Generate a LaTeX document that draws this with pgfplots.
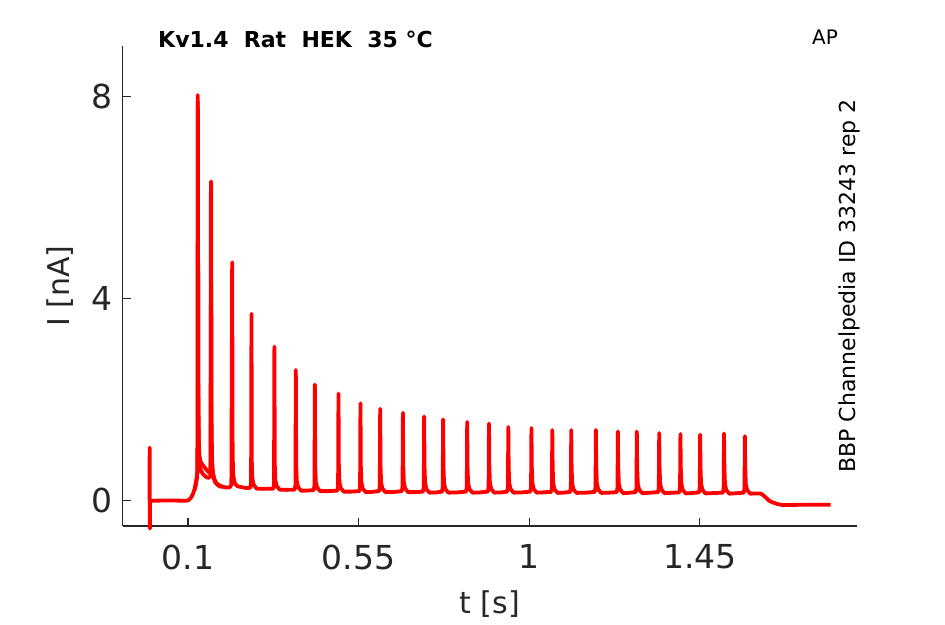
\documentclass[border=0pt]{standalone}
\usepackage{fontspec}
\setmainfont{DejaVu Sans}
\usepackage{pgfplots}
\pgfplotsset{compat=1.18}
\definecolor{axgray}{HTML}{262626}
\definecolor{tracered}{HTML}{FF0000}
\begin{document}
\begin{tikzpicture}[x=1pt,y=1pt]
\path[use as bounding box] (0,0) rectangle (945,624);
\begin{axis}[
  at={(122.5pt,98pt)}, anchor=south west,
  scale only axis, width=734.2pt, height=480pt,
  xmin=-0.0727, xmax=1.864, ymin=-0.5, ymax=9,
  axis x line*=bottom, axis y line*=left,
  axis line style={axgray, line width=1.2pt},
  tick align=inside, major tick length=8pt,
  tick style={axgray, line width=1.2pt},
  xtick={0.1,0.55,1,1.45}, ytick={0,4,8},
  /pgf/number format/assume math mode=true,
  tick label style={font=\fontsize{33}{40}\selectfont, text=axgray},
  x tick label style={yshift=-15pt},
  y tick label style={xshift=-6pt},
  clip=false,
]
\addplot[tracered, line width=3.8pt, line join=round] coordinates {
(-0.0015,0) (-0.001,1.05) (-0.0005,-0.55) (0.0,0) (0.05,0.005) (0.097,0)
(0.103,0.02) (0.108,0.06) (0.113,0.13) (0.117,0.22) (0.120,0.33) (0.123,0.45) (0.1248,0.6)
(0.126,8.03) (0.1272,2.5) (0.1285,1.2) (0.130,0.9) (0.133,0.78) (0.137,0.72) (0.142,0.68) (0.148,0.62) (0.154,0.57) (0.158,0.55) (0.1598,0.65)
(0.161,6.32) (0.1622,1.6) (0.1635,0.8) (0.166,0.55) (0.170,0.42) (0.176,0.34) (0.184,0.3) (0.195,0.27) (0.205,0.26) (0.211,0.27) (0.2145,0.32)
(0.2166,4.72) (0.2178,0.9) (0.2195,0.5) (0.223,0.35) (0.23,0.29) (0.24,0.27) (0.255,0.25)
(0.2645,0.26) (0.2665,0.35) (0.2675,3.70) (0.2685,0.75) (0.270,0.43) (0.2735,0.31) (0.2815,0.24) (0.300,0.235)
(0.325,0.24) (0.327,0.33) (0.328,3.05) (0.329,0.73) (0.3305,0.41) (0.334,0.29) (0.342,0.22) (0.36,0.215)
(0.3815,0.22) (0.3835,0.31) (0.3845,2.59) (0.3855,0.71) (0.387,0.39) (0.3905,0.27) (0.3985,0.2) (0.41,0.2)
(0.4317,0.21) (0.4337,0.3) (0.4347,2.30) (0.4357,0.7) (0.4372,0.38) (0.4407,0.26) (0.4487,0.19) (0.47,0.19)
(0.494,0.2) (0.496,0.29) (0.497,2.12) (0.498,0.69) (0.4995,0.37) (0.503,0.25) (0.511,0.18) (0.53,0.18)
(0.552,0.19) (0.554,0.28) (0.555,1.93) (0.556,0.68) (0.5575,0.36) (0.561,0.24) (0.569,0.17) (0.585,0.175)
(0.604,0.19) (0.606,0.28) (0.607,1.82) (0.608,0.68) (0.6095,0.36) (0.613,0.24) (0.621,0.17) (0.645,0.175)
(0.664,0.19) (0.666,0.28) (0.667,1.74) (0.668,0.68) (0.6695,0.36) (0.673,0.24) (0.681,0.17) (0.70,0.17)
(0.720,0.18) (0.722,0.27) (0.723,1.67) (0.724,0.67) (0.7255,0.35) (0.729,0.23) (0.737,0.16) (0.755,0.165)
(0.770,0.18) (0.772,0.27) (0.773,1.61) (0.774,0.67) (0.7755,0.35) (0.779,0.23) (0.787,0.16) (0.81,0.165)
(0.8335,0.18) (0.8355,0.27) (0.8365,1.56) (0.8375,0.67) (0.839,0.35) (0.8425,0.23) (0.8505,0.16) (0.87,0.165)
(0.891,0.18) (0.893,0.27) (0.894,1.53) (0.895,0.67) (0.8965,0.35) (0.900,0.23) (0.908,0.16) (0.925,0.165)
(0.942,0.18) (0.944,0.27) (0.945,1.46) (0.946,0.67) (0.9475,0.35) (0.951,0.23) (0.959,0.16) (0.98,0.165)
(1.003,0.18) (1.005,0.27) (1.006,1.44) (1.007,0.67) (1.0085,0.35) (1.012,0.23) (1.020,0.16) (1.035,0.165)
(1.058,0.175) (1.060,0.265) (1.061,1.40) (1.062,0.665) (1.0635,0.345) (1.067,0.225) (1.075,0.155) (1.09,0.16)
(1.108,0.175) (1.110,0.265) (1.111,1.40) (1.112,0.665) (1.1135,0.345) (1.117,0.225) (1.125,0.155) (1.15,0.16)
(1.173,0.175) (1.175,0.265) (1.176,1.40) (1.177,0.665) (1.1785,0.345) (1.182,0.225) (1.190,0.155) (1.21,0.16)
(1.231,0.17) (1.233,0.26) (1.234,1.37) (1.235,0.66) (1.2365,0.34) (1.240,0.22) (1.248,0.15) (1.26,0.155)
(1.281,0.17) (1.283,0.26) (1.284,1.37) (1.285,0.66) (1.2865,0.34) (1.290,0.22) (1.298,0.15) (1.31,0.155)
(1.340,0.17) (1.342,0.26) (1.343,1.34) (1.344,0.66) (1.3455,0.34) (1.349,0.22) (1.357,0.15) (1.37,0.155)
(1.396,0.165) (1.398,0.255) (1.399,1.32) (1.400,0.655) (1.4015,0.335) (1.405,0.215) (1.413,0.145) (1.425,0.15)
(1.448,0.165) (1.450,0.255) (1.451,1.31) (1.452,0.655) (1.4535,0.335) (1.457,0.215) (1.465,0.145) (1.48,0.15)
(1.511,0.16) (1.513,0.25) (1.514,1.33) (1.515,0.65) (1.5165,0.33) (1.520,0.21) (1.528,0.14) (1.54,0.145)
(1.566,0.16) (1.568,0.25) (1.569,1.28) (1.570,0.65) (1.5715,0.33) (1.575,0.21) (1.583,0.14) (1.60,0.145)
(1.612,0.14) (1.622,0.08) (1.633,0.0) (1.643,-0.035) (1.655,-0.065) (1.668,-0.085) (1.72,-0.08) (1.795,-0.08)
};
\addplot[tracered, line width=3.8pt, line join=round] coordinates {
(0.118,0.22) (0.121,0.32) (0.1238,0.45) (0.1255,0.6) (0.126,7.9) (0.1272,2.2) (0.1285,1.0) (0.130,0.72) (0.134,0.6) (0.140,0.52) (0.148,0.47) (0.155,0.45) (0.1595,0.5)
(0.1605,6.2) (0.1618,1.4) (0.1632,0.7) (0.166,0.48) (0.172,0.36) (0.18,0.3) (0.19,0.27)
};
\end{axis}
\node[inner sep=0, text=axgray, font=\fontsize{30}{36}\selectfont] at (489.6,20) {t [s]};
\node[inner sep=0, text=axgray, font=\fontsize{30}{36}\selectfont, rotate=90] at (60,338) {I [nA]};
\node[inner sep=0, anchor=base west, font=\fontsize{22}{26}\selectfont\bfseries] at (158,576.5) {Kv1.4\ \ Rat\ \ HEK\ \ 35 °C};
\node[inner sep=0, anchor=base west, font=\fontsize{20}{24}\selectfont] at (812,579) {AP};
\node[inner sep=0, rotate=90, font=\fontsize{22}{26}\selectfont] at (849,338) {BBP Channelpedia ID 33243 rep 2};
\end{tikzpicture}
\end{document}
